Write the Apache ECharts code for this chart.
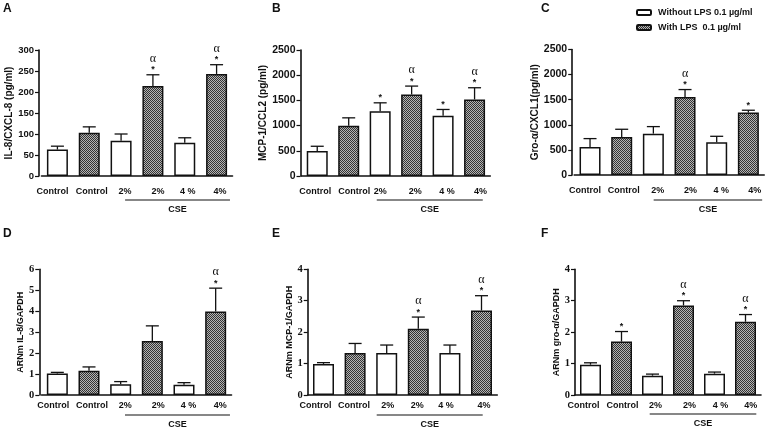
<!DOCTYPE html>
<html><head><meta charset="utf-8">
<script src="https://cdn.jsdelivr.net/npm/echarts@6/dist/echarts.min.js"></script>
<style>html,body{margin:0;padding:0;background:#fff}#c{width:768px;height:430px}</style>
</head><body><div id="c"></div>
<script>
// ---- data ----
const categories = ['Control', 'Control', '2%', '2%', '4 %', '4%'];
const groupNames = ['Without LPS 0.1 µg/ml', 'With LPS  0.1 µg/ml']; // even index = without, odd = with
const panelLetters = ['A', 'B', 'C', 'D', 'E', 'F'];
const yNames = ['IL-8/CXCL-8 (pg/ml)', 'MCP-1/CCL2 (pg/ml)', 'Gro-α/CXCL1(pg/ml)',
                'ARNm IL-8/GAPDH', 'ARNm MCP-1/GAPDH', 'ARNm gro-α/GAPDH'];
const yMaxes = [300, 2500, 2500, 6, 4, 4];
const yIntervals = [50, 500, 500, 1, 1, 1];

const il8Protein      = [63, 103, 84, 214, 79, 243];
const il8ProteinErr   = [8, 14, 16, 27, 12, 22];
const il8ProteinMarks = ['', '', '', '*α', '', '*α'];

const mcp1Protein      = [497, 995, 1286, 1618, 1194, 1519];
const mcp1ProteinErr   = [93, 159, 166, 166, 126, 232];
const mcp1ProteinMarks = ['', '', '*', '*α', '*', '*α'];

const groProtein      = [558, 758, 824, 1556, 652, 1243];
const groProteinErr   = [167, 153, 140, 146, 119, 47];
const groProteinMarks = ['', '', '', '*α', '', '*'];

const il8Mrna      = [1.03, 1.16, 0.51, 2.58, 0.49, 3.98];
const il8MrnaErr   = [0.05, 0.18, 0.13, 0.72, 0.10, 1.12];
const il8MrnaMarks = ['', '', '', '', '', '*α'];

const mcp1Mrna      = [0.99, 1.34, 1.34, 2.11, 1.34, 2.69];
const mcp1MrnaErr   = [0.04, 0.30, 0.25, 0.37, 0.25, 0.47];
const mcp1MrnaMarks = ['', '', '', '*α', '', '*α'];

const groMrna      = [0.965, 1.70, 0.615, 2.85, 0.68, 2.33];
const groMrnaErr   = [0.06, 0.32, 0.05, 0.15, 0.05, 0.23];
const groMrnaMarks = ['', '*', '', '*α', '', '*α'];

const panelValues = [il8Protein, mcp1Protein, groProtein, il8Mrna, mcp1Mrna, groMrna];
const panelErrors = [il8ProteinErr, mcp1ProteinErr, groProteinErr, il8MrnaErr, mcp1MrnaErr, groMrnaErr];
const panelMarks  = [il8ProteinMarks, mcp1ProteinMarks, groProteinMarks, il8MrnaMarks, mcp1MrnaMarks, groMrnaMarks];

// ---- layout / style ----
const FONT = '"Liberation Sans", Arial, Helvetica, sans-serif';
const SERIF = '"Liberation Serif", "Times New Roman", serif';
const INK = '#111';
const layouts = [
  {lx: 3,   ly: 3,   left: 41.5,  width: 191,   top: 50,    height: 126,   off: 2.5, nameGap: 24,   nameSize: 10, tickSize: 9.5, serif: false, margin: 11, cseDy: 24, cseL: 4,    cseR: 13.4,
   shift: [-5, 2.5, 4, 5, 3, 3.5]},
  {lx: 272, ly: 3,   left: 301.5, width: 188.8, top: 50,    height: 126,   off: 1,   nameGap: 31,   nameSize: 10, tickSize: 10.5, serif: false, margin: 11, cseDy: 24, cseL: -3.4, cseR: 8.2,
   shift: [-2, 5.5, 0, 3.5, 4, 6]},
  {lx: 541, ly: 3,   left: 574.2, width: 190,   top: 49.5,  height: 125.5, off: 2,   nameGap: 30,   nameSize: 10, tickSize: 10.5, serif: false, margin: 11, cseDy: 25, cseL: 0.3,  cseR: 13.8,
   shift: [-5, 2, 4.5, 5.5, 4.5, 6.5]},
  {lx: 3,   ly: 228, left: 41.5,  width: 190,   top: 269.3, height: 125.7, off: 2.2, nameGap: 11,   nameSize: 9,  tickSize: 10.5, serif: true,  margin: 6,  cseDy: 20, cseL: 4.3,  cseR: 14.3,
   shift: [-4, 3, 4.5, 6, 4.5, 4.5]},
  {lx: 272, ly: 228, left: 307.7, width: 189.6, top: 269.3, height: 125.7, off: 0,   nameGap: 11.5, nameSize: 9,  tickSize: 10.5, serif: true,  margin: 6,  cseDy: 20, cseL: -10,  cseR: 1.2,
   shift: [-8, -1, 1, -1, -4, 2.5]},
  {lx: 541, ly: 228, left: 575,   width: 186,   top: 269.3, height: 125.7, off: 0,   nameGap: 12,   nameSize: 9,  tickSize: 10.5, serif: true,  margin: 6,  cseDy: 19, cseL: -2.8, cseR: 10.8,
   shift: [-7, 1, 3, 6, 6, 5.3]}
];

function hatchCanvas() {
  const c = document.createElement('canvas');
  c.width = 2; c.height = 2;
  const g = c.getContext('2d');
  g.fillStyle = '#b4b4b4'; g.fillRect(0, 0, 2, 2);
  g.fillStyle = '#333'; g.fillRect(0, 0, 1, 1); g.fillRect(1, 1, 1, 1);
  return c;
}
const hatch = {image: hatchCanvas(), repeat: 'repeat'};

const grids = [], xAxes = [], yAxes = [], series = [], titles = [];
layouts.forEach((L, p) => {
  grids.push({left: L.left, top: L.top, width: L.width, height: L.height});
  titles.push({text: panelLetters[p], left: L.lx, top: L.ly, padding: 0,
    textStyle: {fontSize: 12, fontWeight: 'bold', fontFamily: FONT, color: INK}});
  const catData = categories.map((c, i) => {
    const s = L.shift[i];
    return {value: c, textStyle: {padding: s >= 0 ? [0, 0, 0, 2 * s] : [0, -2 * s, 0, 0]}};
  });
  xAxes.push({type: 'category', gridIndex: p, data: catData,
    axisLine: {lineStyle: {color: INK, width: 1.6}},
    axisTick: {alignWithLabel: true, length: 4, lineStyle: {color: INK, width: 1.2}},
    axisLabel: {margin: L.margin, fontSize: 9, fontWeight: 'bold', fontFamily: FONT, color: INK, interval: 0}
  });
  yAxes.push({type: 'value', gridIndex: p, min: 0, max: yMaxes[p], interval: yIntervals[p], offset: L.off,
    name: yNames[p], nameLocation: 'middle', nameGap: L.nameGap,
    nameTextStyle: {fontSize: L.nameSize, fontWeight: 'bold', fontFamily: FONT, color: INK},
    axisLine: {show: true, lineStyle: {color: INK, width: 1.6}},
    axisTick: {show: true, length: 4, lineStyle: {color: INK, width: 1.2}},
    axisLabel: {margin: 5, fontSize: L.tickSize, fontWeight: 'bold', fontFamily: L.serif ? SERIF : FONT, color: INK,
      formatter: v => String(v)},
    splitLine: {show: false}
  });
  const vals = panelValues[p], errs = panelErrors[p], marks = panelMarks[p];
  [0, 1].forEach(g => {
    series.push({type: 'bar', name: groupNames[g], xAxisIndex: p, yAxisIndex: p,
      barWidth: 21, barGap: '-100%',
      itemStyle: {color: g === 0 ? '#fff' : hatch, borderColor: INK, borderWidth: 1.5},
      data: vals.map((v, i) => (i % 2 === g ? v : '-')),
      silent: true, animation: false});
  });
  series.push({type: 'custom', xAxisIndex: p, yAxisIndex: p, clip: false, animation: false, silent: true, z: 5,
    encode: {x: 0, y: 1},
    data: vals.map((v, i) => [i, v, errs[i]]),
    renderItem: function (params, api) {
      const i = api.value(0), v = api.value(1), e = api.value(2);
      const p0 = api.coord([i, v]), p1 = api.coord([i, v + e]);
      const mk = marks[params.dataIndex];
      const ch = [
        {type: 'line', shape: {x1: p0[0], y1: p0[1], x2: p1[0], y2: p1[1]}, style: {stroke: INK, lineWidth: 1.3}},
        {type: 'line', shape: {x1: p1[0] - 6.5, y1: p1[1], x2: p1[0] + 6.5, y2: p1[1]}, style: {stroke: INK, lineWidth: 1.3}}
      ];
      if (mk.indexOf('*') >= 0) ch.push({type: 'text', x: p1[0], y: p1[1] - 5,
        style: {text: '*', fill: INK, font: 'bold 9px ' + FONT, align: 'center', verticalAlign: 'middle'}});
      if (mk.indexOf('α') >= 0) ch.push({type: 'text', x: p1[0], y: p1[1] - 16,
        style: {text: 'α', fill: INK, font: '12px ' + SERIF, align: 'center', verticalAlign: 'middle'}});
      return {type: 'group', children: ch};
    }
  });
  series.push({type: 'custom', xAxisIndex: p, yAxisIndex: p, clip: false, animation: false, silent: true,
    encode: {x: 0, y: 1}, data: [[2, 0]],
    renderItem: function (params, api) {
      const a = api.coord([2, 0]), b = api.coord([5, 0]);
      const x1 = a[0] + L.cseL, x2 = b[0] + L.cseR, y = a[1] + L.cseDy;
      return {type: 'group', children: [
        {type: 'line', shape: {x1: x1, y1: y, x2: x2, y2: y}, style: {stroke: INK, lineWidth: 1.2}},
        {type: 'text', x: (x1 + x2) / 2, y: y + 10, style: {text: 'CSE', fill: INK, font: 'bold 9px ' + FONT, align: 'center', verticalAlign: 'middle'}}
      ]};
    }
  });
});

const chart = echarts.init(document.getElementById('c'), null, {renderer: 'canvas'});
chart.setOption({
  backgroundColor: '#fff',
  animation: false,
  title: titles,
  legend: {data: groupNames, orient: 'vertical', left: 636, top: 7, padding: 0, itemWidth: 14, itemHeight: 5, itemGap: 4,
    selectedMode: false,
    textStyle: {fontSize: 9, fontWeight: 'bold', fontFamily: FONT, color: INK, lineHeight: 11, padding: [0, 0, 0, 2]}},
  grid: grids, xAxis: xAxes, yAxis: yAxes, series: series
});
</script></body></html>
